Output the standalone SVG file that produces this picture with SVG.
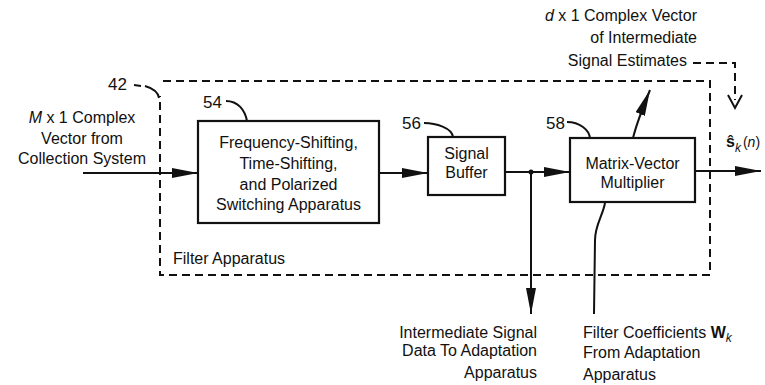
<svg xmlns="http://www.w3.org/2000/svg" width="765" height="385" viewBox="0 0 765 385">
<defs>
<style>
text{font-family:"Liberation Sans",Arial,sans-serif;font-size:16px;fill:#111;}
.c{text-anchor:middle}
.r{text-anchor:end}
.lbl{font-size:17px}
.box{fill:#fff;stroke:#111;stroke-width:2.2}
.ln{fill:none;stroke:#111;stroke-width:2}
.dash{fill:none;stroke:#111;stroke-width:2;stroke-dasharray:8 5}
.it{font-style:italic}
</style>
<marker id="ah" viewBox="0 0 26 10" refX="26" refY="5" markerWidth="26" markerHeight="10" markerUnits="userSpaceOnUse" orient="auto">
<path d="M0,0 L26,5 L0,10 Z" fill="#111"/>
</marker>
</defs>
<rect width="765" height="385" fill="#fff"/>

<g id="filter-apparatus">
<path class="dash" d="M163 81 L710 81 L710 275 L160 275 L160 96"/>
<text x="173" y="264">Filter Apparatus</text>
<text class="lbl" x="108" y="90">42</text>
<path class="ln" d="M134 85 L141 86"/>
<path class="ln" d="M145 86 C152 88 158 92 159 98"/>
</g>

<g id="node-54">
<rect class="box" x="198" y="121" width="181" height="102"/>
<text class="c" x="288.5" y="148">Frequency-Shifting,</text>
<text class="c" x="288.5" y="169">Time-Shifting,</text>
<text class="c" x="288.5" y="190">and Polarized</text>
<text class="c" x="288.5" y="210">Switching Apparatus</text>
<text class="lbl" x="203" y="108">54</text>
<path class="ln" d="M226 101 C238 101 245 110 247 121"/>
</g>

<g id="node-56">
<rect class="box" x="428" y="137" width="77" height="58"/>
<text class="c" x="466.5" y="159">Signal</text>
<text class="c" x="466.5" y="178">Buffer</text>
<text class="lbl" x="402" y="129">56</text>
<path class="ln" d="M424 123 C436 123 452 128 453 137"/>
</g>

<g id="node-58">
<rect class="box" x="570" y="138" width="125" height="64"/>
<text class="c" x="632.5" y="169">Matrix-Vector</text>
<text class="c" x="632.5" y="188">Multiplier</text>
<text class="lbl" x="546" y="129">58</text>
<path class="ln" d="M567 122 C580 122 589 130 590 138"/>
</g>

<g id="input-label">
<text class="c" x="82" y="123"><tspan class="it">M</tspan> x 1 Complex</text>
<text class="c" x="82" y="144">Vector from</text>
<text class="c" x="82" y="164">Collection System</text>
</g>

<g id="estimates-label">
<text class="r" x="697" y="21"><tspan class="it">d</tspan> x 1 Complex Vector</text>
<text class="r" x="697" y="43">of Intermediate</text>
<text class="r" x="687" y="66">Signal Estimates</text>
</g>

<g id="output-label">
<text x="726" y="147"><tspan style="font-weight:bold">s&#770;</tspan><tspan class="it" dy="5" style="font-size:12px">k</tspan><tspan dx="2" dy="-5" style="font-size:14px">(</tspan><tspan class="it" style="font-size:14px">n</tspan><tspan style="font-size:14px">)</tspan></text>
</g>

<g id="intermediate-data-label">
<text class="r" x="537" y="338">Intermediate Signal</text>
<text class="r" x="537" y="356">Data To Adaptation</text>
<text class="r" x="537" y="378">Apparatus</text>
</g>

<g id="filter-coeff-label">
<text x="583" y="338">Filter Coefficients <tspan style="font-weight:bold">W</tspan><tspan class="it" dy="4" style="font-size:12px">k</tspan></text>
<text x="583" y="358">From Adaptation</text>
<text x="583" y="380">Apparatus</text>
</g>

<g id="connectors">
<path class="ln" d="M83 173 L198 173" marker-end="url(#ah)"/>
<path class="ln" d="M379 173 L428 173" marker-end="url(#ah)"/>
<path class="ln" d="M505 172 L570 172" marker-end="url(#ah)"/>
<circle cx="531" cy="172" r="2.5" fill="#111"/>
<path class="ln" d="M531 172 L531 314" marker-end="url(#ah)"/>
<path class="ln" d="M695 171 L761 171" marker-end="url(#ah)"/>
<path class="ln" d="M633 138 C636 126 641 112 650 90" marker-end="url(#ah)"/>
<path class="ln" d="M605 203 C603 215 595 225 595 240 L594 314"/>
<path class="dash" d="M693 63 L735 63 L735 100"/>
<path class="ln" d="M728 95 L735 108 L742 95"/>
</g>
</svg>
